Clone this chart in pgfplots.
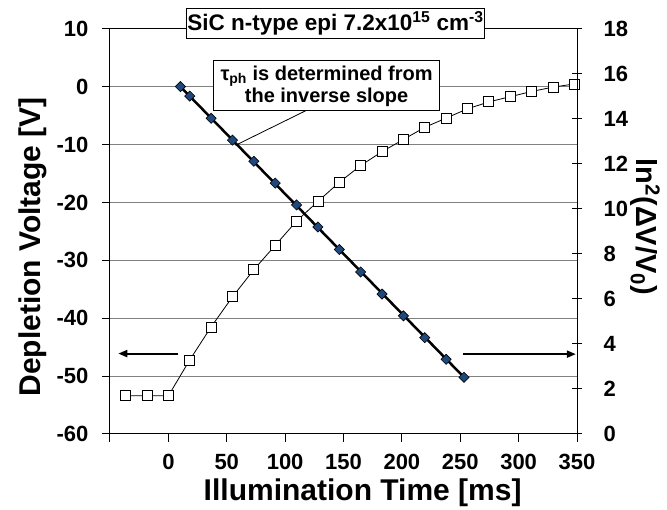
\documentclass[border=0pt]{standalone}
\usepackage{fontspec}
\setmainfont{Liberation Sans}
\usepackage{pgfplots}
\pgfplotsset{compat=1.18}
\usetikzlibrary{arrows.meta}
\definecolor{diam}{RGB}{31,73,125}
\definecolor{gridgray}{RGB}{128,128,128}

\pgfplotstableread{
x y
-36.6 -53.4
-18.3 -53.4
0.0 -53.4
18.3 -47.2
36.6 -41.5
54.9 -36.3
73.2 -31.6
91.5 -27.4
109.8 -23.2
128.1 -19.8
146.4 -16.5
164.7 -13.6
183.0 -11.2
201.3 -9.1
219.6 -7.0
237.9 -5.4
256.2 -3.8
274.5 -2.6
292.8 -1.7
311.1 -0.8
329.4 -0.05
347.7 0.5
}\voltage

\pgfplotstableread{
x y
10.3 15.44
18.3 15.02
36.6 14.03
54.9 13.06
73.2 12.12
91.5 11.15
109.8 10.18
128.1 9.20
146.4 8.20
164.7 7.20
183.0 6.22
201.3 5.25
219.6 4.28
237.9 3.32
253.2 2.52
}\lnsq

\begin{document}
\begin{tikzpicture}[x=1pt,y=1pt]
\begin{axis}[
  at={(0,0)}, anchor=south west,
  scale only axis, width=467pt, height=405pt,
  xmin=-50, xmax=350, ymin=-60, ymax=10,
  xtick={-50,0,...,350}, xticklabels={,0,50,100,150,200,250,300,350},
  ytick={-60,-50,...,10},
  xtick pos=bottom, ytick pos=left,
  tick align=outside, major tick length=8pt,
  ymajorgrids, grid style={gridgray, line width=1pt},
  axis line style={black, line width=1pt},
  tick style={black, line width=1pt},
  tick label style={font=\fontsize{22}{26}\selectfont\bfseries},
  xticklabel style={yshift=-9pt},
  yticklabel style={xshift=-10pt},
  /pgf/number format/assume math mode=true,
  xlabel={Illumination Time [ms]},
  ylabel={Depletion Voltage [V]},
  label style={font=\fontsize{30}{36}\selectfont\bfseries},
  xlabel style={at={(rel axis cs:0.541,-0.165)}, anchor=base},
  ylabel style={at={(rel axis cs:-0.165,0.462)}, anchor=center},
  clip=false,
]
\addplot[black, line width=0.8pt, mark=square*, mark size=5pt,
  mark options={fill=white, draw=black, line width=0.8pt}] table[x=x,y=y] {\voltage};
\draw[line width=2pt, -{Triangle[length=9pt,width=7pt]}] (axis cs:8.6,-46.1) -- (axis cs:-42.9,-46.1);
\draw[line width=2pt, -{Triangle[length=9pt,width=7pt]}] (axis cs:252.4,-46.2) -- (axis cs:349,-46.2);
\draw[line width=0.8pt] (axis cs:117.5,-4.14) -- (axis cs:57.5,-10.1);
\node[draw, fill=white, line width=0.8pt, align=center,
  font=\fontsize{20}{22}\selectfont\bfseries,
  minimum width=226pt, minimum height=50pt, inner sep=2pt]
  at (axis cs:135.5,0.17) {τ\textsubscript{ph} is determined from\\the inverse slope};
\node[draw, fill=white, line width=0.8pt,
  font=\fontsize{22.5}{26}\selectfont\bfseries,
  minimum width=294pt, minimum height=30pt, inner sep=1pt]
  at (axis cs:143.2,10.98) {SiC n-type epi 7.2x10\textsuperscript{15} cm\textsuperscript{-3}};
\end{axis}
\begin{axis}[
  at={(0,0)}, anchor=south west,
  scale only axis, width=467pt, height=405pt,
  xmin=-50, xmax=350, ymin=0, ymax=18,
  ytick={0,2,...,18},
  axis x line=none, axis y line*=right,
  tick align=center, major tick length=10pt,
  axis line style={black, line width=1pt},
  tick style={black, line width=1pt},
  tick label style={font=\fontsize{22}{26}\selectfont\bfseries},
  yticklabel style={xshift=18pt},
  /pgf/number format/assume math mode=true,
  ylabel={ln\textsuperscript{2}(ΔV/V\textsubscript{0})},
  label style={font=\fontsize{29}{34}\selectfont\bfseries},
  ylabel style={at={(rel axis cs:1.146,0.511)}, anchor=center, rotate=180},
  clip=false,
]
\addplot[only marks, mark=square*, mark size=3.6pt,
  mark options={rotate=45, fill=diam, draw=black, line width=0.6pt}] table[x=x,y=y] {\lnsq};
\addplot[black, line width=2.5pt] coordinates {(10.3,15.44) (253.2,2.52)};
\end{axis}
\pgfresetboundingbox
\path[use as bounding box] (-110pt,-76pt) rectangle (557pt,434pt);
\end{tikzpicture}
\end{document}
